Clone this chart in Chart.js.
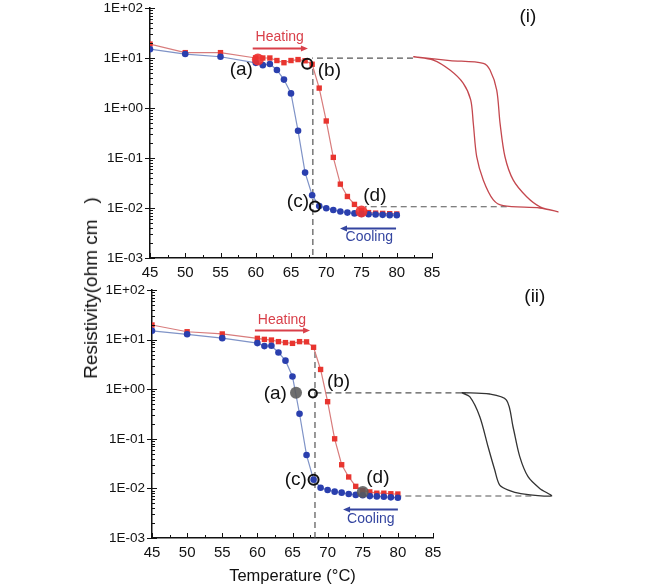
<!DOCTYPE html>
<html>
<head>
<meta charset="utf-8">
<script src="https://cdn.jsdelivr.net/npm/chart.js@4.4.0/dist/chart.umd.min.js"></script>
<style>
  body { margin: 0; background: #fff; }
  #wrap { position: relative; width: 647px; height: 588px; overflow: hidden; }
  canvas { position: absolute; left: 0; }
  #c1 { top: 0; }
  #c2 { top: 280px; }
  #ytitle {
    position: absolute; left: 91px; top: 288px;
    transform: translate(-50%, -50%) rotate(-90deg);
    font: 19px 'Liberation Sans', Arial, sans-serif;
    white-space: pre; color: #111;
  }
</style>
</head>
<body>
<div id="wrap">
  <canvas id="c1" width="647" height="290"></canvas>
  <canvas id="c2" width="647" height="308"></canvas>
  <div id="ytitle">Resistivity(ohm cm   )</div>
</div>
<script>
// axis ticks
const xTicks = [45, 50, 55, 60, 65, 70, 75, 80, 85];
const yTicks = [1e-3, 1e-2, 1e-1, 1, 10, 100];
const yTickLabels = ['1E-03', '1E-02', '1E-01', '1E+00', '1E+01', '1E+02'];

// temperature (C) for heating / cooling runs
const temps = [45, 50, 55, 60, 61, 62, 63, 64, 65, 66, 67, 68, 69, 70, 71, 72, 73, 74, 75, 76, 77, 78, 79, 80];

// panel (i)
const heatI = [19, 12.8, 12.8, 10, 10, 10, 8.9, 8.05, 8.9, 9.3, 8.8, 7.5, 2.5, 0.55, 0.103, 0.03, 0.017, 0.0118, 0.0088, 0.0081, 0.0079, 0.0078, 0.0077, 0.0076];
const coolI = [15, 12, 10.6, 8, 7.2, 7.6, 5.75, 3.7, 1.96, 0.35, 0.051, 0.018, 0.011, 0.0099, 0.0091, 0.0085, 0.0081, 0.0078, 0.0076, 0.0075, 0.0074, 0.0073, 0.0072, 0.0072];
const markTempI = [60.3, 67.3, 68.4, 75];
const markResI = [9.3, 7.7, 0.0107, 0.0085];
// schematic hysteresis loop (i)
const loopTempI = [82.35, 87.55, 92.28, 93.23, 94.18, 94.65, 95.35, 96.53, 98.43, 100.32, 102.9, 100.32, 95.11, 93.7, 92.28, 91.34, 90.86, 90.49, 89.44, 87.55, 85.18, 82.35];
const loopResI = [10.6, 8.9, 7.83, 5.75, 2.29, 0.5, 0.106, 0.036, 0.0168, 0.0106, 0.0084, 0.01, 0.0111, 0.0145, 0.036, 0.106, 0.49, 1.45, 3.12, 5.75, 9.1, 10.6];

// panel (ii)
const heatII = [19.7, 14.4, 13, 10.6, 10.1, 9.8, 9.1, 8.7, 8.4, 9.1, 9, 7, 2.5, 0.56, 0.1, 0.03, 0.017, 0.011, 0.009, 0.0085, 0.008, 0.008, 0.0078, 0.0077];
const coolII = [15, 12.8, 10.7, 8.5, 7.4, 7.5, 5.5, 3.76, 1.8, 0.32, 0.047, 0.015, 0.0103, 0.0093, 0.0086, 0.0082, 0.0077, 0.0074, 0.0073, 0.007, 0.0069, 0.0068, 0.0066, 0.0065];
const markTempII = [65.5, 67.9, 68, 75];
const markResII = [0.85, 0.82, 0.015, 0.0085];
const loopTempII = [89.05, 93.08, 95.46, 96.39, 97.35, 98.53, 100.19, 101.86, 97.35, 95.92, 94.5, 93.79, 92.84, 91.66, 90.23, 89.05];
const loopResII = [0.85, 0.8, 0.605, 0.175, 0.0436, 0.0172, 0.01, 0.00703, 0.0079, 0.009, 0.0117, 0.0235, 0.069, 0.279, 0.706, 0.85];

// guide lines [temps, resistivities]
const guidesI = [[[82.3, 68.0], [9.9, 9.9]], [[95.6, 75.5], [0.0106, 0.0106]], [[68.1, 68.1], [6, 0.001]]];
const guidesII = [[[89.05, 68.5], [0.84, 0.84]], [[99, 80.4], [0.00703, 0.00703]], [[68.2, 68.2], [5.6, 0.001]]];

const sans = "'Liberation Sans', Arial, sans-serif";
const labelFont = '19px ' + sans;
const heatColor = '#d9404a';
const coolColor = '#3445a0';

const pts = (xs, ys) => xs.map((x, i) => ({x: x, y: ys[i]}));

const tickMarks = {
  id: 'tickMarks',
  afterDraw(chart) {
    const {ctx, chartArea: a, scales: {x, y}} = chart;
    ctx.save();
    ctx.strokeStyle = '#111';
    ctx.lineWidth = 1;
    ctx.beginPath();
    yTicks.forEach(p => {
      for (let d = 1; d < 10; d++) {
        const v = p * d;
        if (v > y.max * 1.0001) break;
        const py = Math.round(y.getPixelForValue(v)) + 0.5;
        ctx.moveTo(a.left - (d === 1 ? 5 : 0), py);
        ctx.lineTo(a.left + (d === 1 ? 5 : 3), py);
      }
    });
    for (let v = x.min; v <= x.max; v += 2.5) {
      const px = Math.round(x.getPixelForValue(v)) + 0.5;
      const major = (v - x.min) % 5 === 0;
      ctx.moveTo(px, a.bottom);
      ctx.lineTo(px, a.bottom - (major ? 5 : 3));
    }
    ctx.stroke();
    ctx.restore();
  }
};

function makeNotes(labels, arrows) {
  return {
    id: 'notes',
    afterDatasetsDraw(chart) {
      const {ctx, scales: {x, y}} = chart;
      ctx.save();
      labels.forEach(n => {
        ctx.font = n.font || labelFont;
        ctx.fillStyle = n.color || '#111';
        ctx.textAlign = n.align || 'center';
        ctx.textBaseline = 'middle';
        ctx.fillText(n.text, x.getPixelForValue(n.x), y.getPixelForValue(n.y));
      });
      arrows.forEach(ar => {
        const x1 = x.getPixelForValue(ar.x1), x2 = x.getPixelForValue(ar.x2);
        const py = Math.round(y.getPixelForValue(ar.y)) + 0.5;
        const dir = Math.sign(x2 - x1);
        ctx.strokeStyle = ar.color;
        ctx.fillStyle = ar.color;
        ctx.lineWidth = 1.8;
        ctx.beginPath();
        ctx.moveTo(x1, py);
        ctx.lineTo(x2 - dir * 5, py);
        ctx.stroke();
        ctx.beginPath();
        ctx.moveTo(x2, py);
        ctx.lineTo(x2 - dir * 7, py - 3);
        ctx.lineTo(x2 - dir * 7, py + 3);
        ctx.closePath();
        ctx.fill();
      });
      ctx.restore();
    }
  };
}

function panel(id, o) {
  const guideSets = o.guides.map(g => ({
    data: pts(g[0], g[1]), showLine: true, borderColor: '#555', borderWidth: 1.2,
    borderDash: [6, 4], pointRadius: 0, clip: false, order: 5
  }));
  new Chart(document.getElementById(id), {
    type: 'scatter',
    data: {
      datasets: [
        {
          data: pts(o.markT, o.markR), showLine: false, order: 0,
          pointRadius: [6, o.openR, 5, 6],
          pointBackgroundColor: [o.bigColor, 'rgba(0,0,0,0)', 'rgba(0,0,0,0)', o.bigColor],
          pointBorderColor: [o.bigColor, '#111', '#111', o.bigColor],
          pointBorderWidth: [0, 2, 2, 0]
        },
        {
          data: pts(temps, o.cool), showLine: true, order: 1,
          borderColor: '#7f93c7', borderWidth: 1.2,
          pointStyle: 'circle', pointRadius: 3.3,
          pointBackgroundColor: '#2a3fae', pointBorderWidth: 0
        },
        {
          data: pts(temps, o.heat), showLine: true, order: 2,
          borderColor: '#d87c7c', borderWidth: 1.2,
          pointStyle: 'rect', pointRadius: 3.8,
          pointBackgroundColor: '#e8352f', pointBorderWidth: 0
        },
        {
          data: pts(o.loopT, o.loopR), showLine: true, order: 3,
          borderColor: o.loopColor, borderWidth: 1.3, pointRadius: 0,
          tension: 0.3, capBezierPoints: false, clip: false
        },
        ...guideSets
      ]
    },
    options: {
      responsive: false,
      animation: false,
      events: [],
      layout: {padding: {left: 0, top: o.top, right: 647 - o.right, bottom: 0}},
      plugins: {legend: {display: false}, tooltip: {enabled: false}},
      scales: {
        x: {
          type: 'linear', min: 45, max: 85,
          afterBuildTicks: s => { s.ticks = xTicks.map(v => ({value: v})); },
          afterFit: s => { s.height = o.xh; s.paddingLeft = 0; s.paddingRight = 0; },
          grid: {drawOnChartArea: false, drawTicks: false},
          border: {color: '#111', width: 1.5},
          ticks: {padding: 6, color: '#111', font: {family: sans, size: 15}, maxRotation: 0, autoSkip: false},
          title: o.xTitle ? {display: true, text: 'Temperature (°C)', color: '#111',
            font: {family: sans, size: 16.5}, padding: {top: 0, bottom: 2}} : {display: false}
        },
        y: {
          type: 'logarithmic', min: 1e-3, max: 100,
          afterBuildTicks: s => { s.ticks = yTicks.map(v => ({value: v})); },
          afterFit: s => { s.width = o.left; s.paddingTop = 0; s.paddingBottom = 0; },
          grid: {drawOnChartArea: false, drawTicks: false},
          border: {color: '#111', width: 1.5},
          ticks: {padding: 7, color: '#111', font: {family: sans, size: 13.5},
            callback: (v, i) => yTickLabels[i]}
        }
      }
    },
    plugins: [tickMarks, makeNotes(o.labels, o.arrows)]
  });
}

panel('c1', {
  heat: heatI, cool: coolI, markT: markTempI, markR: markResI,
  loopT: loopTempI, loopR: loopResI, loopColor: '#c4474e',
  bigColor: 'rgba(238,50,48,0.9)', openR: 5, guides: guidesI,
  top: 8, left: 150, right: 432, xh: 32, xTitle: false,
  labels: [
    {text: '(a)', x: 59.6, y: 5.75, align: 'right'},
    {text: '(b)', x: 68.8, y: 5.5, align: 'left'},
    {text: '(c)', x: 67.55, y: 0.0132, align: 'right'},
    {text: '(d)', x: 76.9, y: 0.0174},
    {text: 'Heating', x: 63.4, y: 26.3, color: heatColor, font: '14px ' + sans},
    {text: 'Cooling', x: 76.1, y: 0.00263, color: coolColor, font: '14px ' + sans},
    {text: '(i)', x: 98.6, y: 66}
  ],
  arrows: [
    {x1: 59.57, x2: 67.4, y: 15.6, color: heatColor},
    {x1: 79.9, x2: 71.95, y: 0.00404, color: coolColor}
  ]
});

panel('c2', {
  heat: heatII, cool: coolII, markT: markTempII, markR: markResII,
  loopT: loopTempII, loopR: loopResII, loopColor: '#333',
  bigColor: 'rgba(90,90,90,0.88)', openR: 4, guides: guidesII,
  top: 10, left: 152, right: 433, xh: 50, xTitle: true,
  labels: [
    {text: '(a)', x: 64.2, y: 0.8, align: 'right'},
    {text: '(b)', x: 69.9, y: 1.4, align: 'left'},
    {text: '(c)', x: 67.05, y: 0.0148, align: 'right'},
    {text: '(d)', x: 77.15, y: 0.0162},
    {text: 'Heating', x: 63.5, y: 24.8, color: heatColor, font: '14px ' + sans},
    {text: 'Cooling', x: 76.15, y: 0.00242, color: coolColor, font: '14px ' + sans},
    {text: '(ii)', x: 99.5, y: 72}
  ],
  arrows: [
    {x1: 59.65, x2: 67.5, y: 15.6, color: heatColor},
    {x1: 80, x2: 72.2, y: 0.0038, color: coolColor}
  ]
});
</script>
</body>
</html>
